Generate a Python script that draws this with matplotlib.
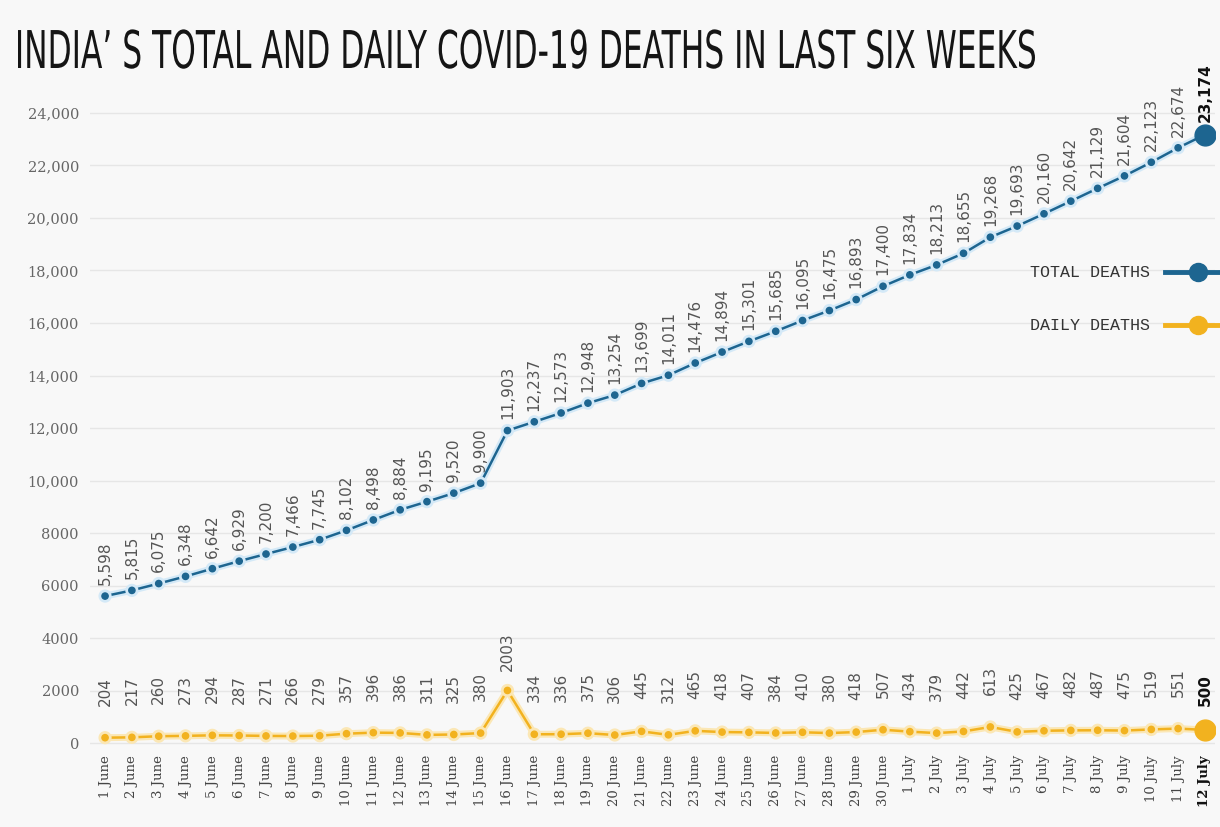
import matplotlib
matplotlib.use("Agg")
import matplotlib.pyplot as plt
import matplotlib.patheffects as pe
from matplotlib.lines import Line2D
from matplotlib.textpath import TextPath
from matplotlib.patches import PathPatch
from matplotlib.font_manager import FontProperties
from matplotlib.transforms import Affine2D

# data, 1 June - 12 July
dates = ([f"{d} June" for d in range(1, 31)] +
         [f"{d} July" for d in range(1, 13)])
total_deaths = [5598, 5815, 6075, 6348, 6642, 6929, 7200, 7466, 7745, 8102,
                8498, 8884, 9195, 9520, 9900, 11903, 12237, 12573, 12948, 13254,
                13699, 14011, 14476, 14894, 15301, 15685, 16095, 16475, 16893, 17400,
                17834, 18213, 18655, 19268, 19693, 20160, 20642, 21129, 21604, 22123,
                22674, 23174]
daily_deaths = [204, 217, 260, 273, 294, 287, 271, 266, 279, 357,
                396, 386, 311, 325, 380, 2003, 334, 336, 375, 306,
                445, 312, 465, 418, 407, 384, 410, 380, 418, 507,
                434, 379, 442, 613, 425, 467, 482, 487, 475, 519,
                551, 500]
yticks = [0, 2000, 4000, 6000, 8000, 10000, 12000, 14000, 16000, 18000,
          20000, 22000, 24000]
title = "INDIA’ S TOTAL AND DAILY COVID-19 DEATHS IN LAST SIX WEEKS"

blue = "#1d6590"
gold = "#f2b21f"
bg = "#f8f8f8"
W, H = 1220, 827

fig = plt.figure(figsize=(12.2, 8.27), dpi=100, facecolor=bg)
ax = fig.add_axes([0.0738, 0.092, 0.922, 0.7936], facecolor=bg)
x = list(range(len(dates)))

halo_b = [pe.Stroke(linewidth=5, foreground="#d4e9f7"), pe.Normal()]
halo_g = [pe.Stroke(linewidth=5, foreground="#fbe7b5"), pe.Normal()]
ax.plot(x, total_deaths, color=blue, lw=1.8, marker="o", ms=4.5,
        path_effects=halo_b, zorder=3)
ax.plot(x, daily_deaths, color=gold, lw=1.8, marker="o", ms=4.5,
        path_effects=halo_g, zorder=3)
ax.plot(x[-1], total_deaths[-1], "o", color=blue, ms=15, zorder=4)
ax.plot(x[-1], daily_deaths[-1], "o", color=gold, ms=15, zorder=4)

# value labels
last = len(x) - 1
for i in x:
    bold = i == last
    ax.annotate(f"{total_deaths[i]:,}", (i, total_deaths[i]),
                xytext=(0, 9 if bold else 8), textcoords="offset points",
                rotation=90, ha="center", va="bottom", fontsize=11,
                color="#111" if bold else "#555",
                fontweight="bold" if bold else "normal",
                family="DejaVu Sans")
    off = 14 if daily_deaths[i] > 1000 else 23
    ax.annotate(f"{daily_deaths[i]}", (i, daily_deaths[i]),
                xytext=(0, 17 if bold else off), textcoords="offset points",
                rotation=90, ha="center", va="bottom", fontsize=11,
                color="#111" if bold else "#555",
                fontweight="bold" if bold else "normal",
                family="DejaVu Sans")

ax.set_xlim(-0.56, 41.37)
ax.set_ylim(-300, 24700)
ax.set_yticks(yticks)
ax.set_yticklabels([f"{v:,}" if v >= 10000 else str(v) for v in yticks],
                   family="DejaVu Serif", fontsize=10.5, color="#666")
ax.set_xticks(x)
ax.set_xticklabels(dates, rotation=90, family="DejaVu Serif",
                   fontsize=9.5, color="#444")
ax.get_xticklabels()[-1].set_fontweight("bold")
ax.get_xticklabels()[-1].set_color("#111")
ax.tick_params(axis="y", length=0, pad=8)
ax.tick_params(axis="x", length=0, pad=3)
ax.grid(axis="y", color="#e6e6e6", lw=1)
ax.set_axisbelow(True)
for s in ax.spines.values():
    s.set_visible(False)

# condensed title: squeeze the text outline horizontally
tp = TextPath((0, 0), title, size=1, prop=FontProperties(family="DejaVu Sans"))
bb = tp.get_extents()
sx = (1035 - 18) / bb.width
sy = 38 / 0.73
tr = Affine2D().translate(-bb.x0, 0).scale(sx / W, sy / H).translate(18 / W, 1 - 68 / H)
fig.add_artist(PathPatch(tp, facecolor="#151515", edgecolor="none",
                         transform=tr + fig.transFigure))

# legend
for yy, lab, col in [(0.671, "TOTAL DEATHS", blue), (0.607, "DAILY DEATHS", gold)]:
    fig.text(0.844, yy, lab, family="Liberation Mono", fontsize=12,
             color="#333", va="center", ha="left")
    fig.add_artist(Line2D([0.955, 1.0], [yy, yy], color=col, lw=3.5,
                          transform=fig.transFigure))
    fig.add_artist(Line2D([0.982], [yy], marker="o", ms=13, color=col,
                          transform=fig.transFigure))

fig.savefig("out.png", dpi=100, facecolor=bg)
